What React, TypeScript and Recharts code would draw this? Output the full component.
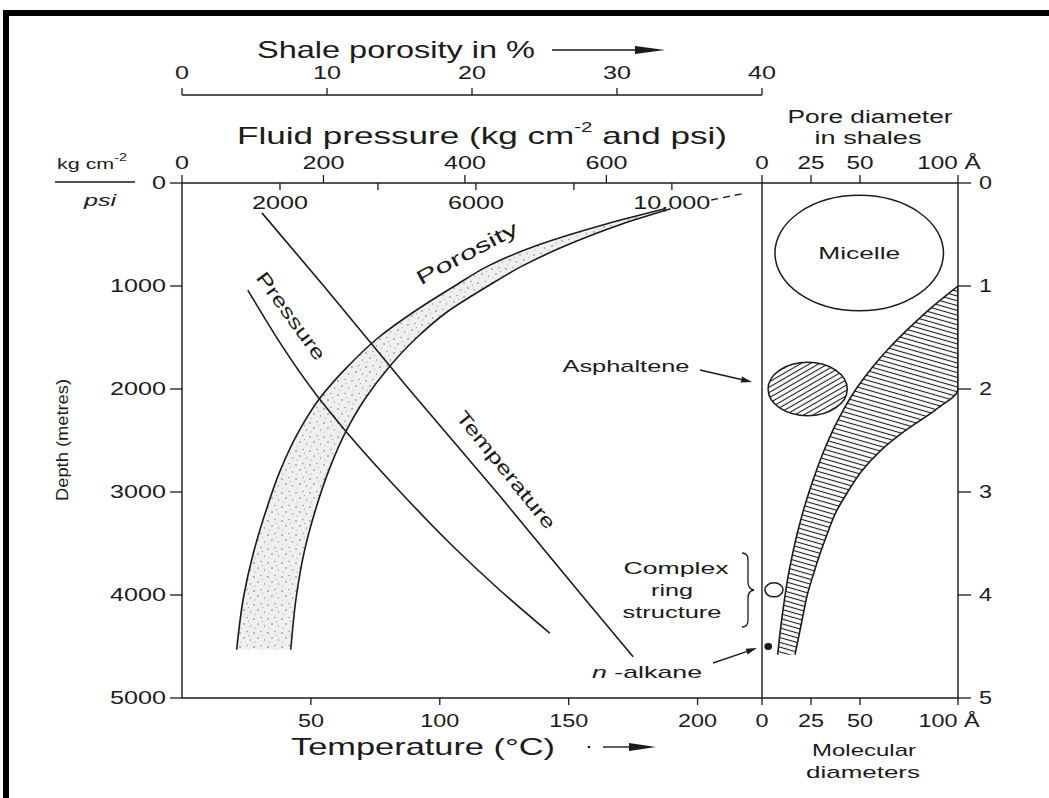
import React from 'react';
import { ComposedChart, Line, Area, Scatter, XAxis, YAxis } from 'recharts';

// ---------------- data ----------------
const depthTicks = [0, 1000, 2000, 3000, 4000, 5000];
const kmTicks = [0, 1, 2, 3, 4, 5];
const porosityTicks = [0, 10, 20, 30, 40];
const kgTicks = [0, 200, 400, 600];
const psiTicks = [2000, 4000, 6000, 8000, 10000];
const psiLabels = ['2000', '', '6000', '', '10,000'];
const temperatureTicks = [50, 100, 150, 200];
const angstromTicks = [0, 25, 50, 100];

// shale porosity band (%), depth in metres
const bandDepths = [250, 400, 600, 800, 1000, 1250, 1500, 1800, 2100, 2400, 2800, 3200, 3600, 4000, 4530];
const bandLow = [33.3, 29.2, 24.6, 21.2, 18.8, 16.0, 13.55, 11.3, 9.45, 8.1, 6.75, 5.75, 4.91, 4.27, 3.77];
const bandHigh = [33.7, 30.3, 26.6, 23.55, 21.1, 18.3, 16.2, 14.2, 12.6, 11.35, 10.1, 9.15, 8.4, 7.9, 7.5];

// dashed upward continuation of the porosity curve
const extDepths = [165, 97];
const extPorosity = [36.5, 38.9];

// fluid pressure (kg cm-2)
const pressureDepths = [1040, 2075, 2380, 2980, 3500, 3920, 4370];
const pressureKg = [93, 192, 228, 306, 379, 444, 520];

// temperature (deg C)
const temperatureDepths = [290, 1000, 2000, 3000, 4000, 4600];
const temperatureC = [31, 55, 88, 122, 155, 175];

// pore diameter band in shales (Angstrom), depth in km
const poreDepthsKm = [1.0, 1.2, 1.4, 1.6, 1.8, 2.0, 2.2, 2.4, 2.6, 2.8, 3.0, 3.2, 3.4, 3.6, 3.8, 4.0, 4.2, 4.4, 4.58];
const poreLow = [100, 87, 75.5, 65, 55.8, 48, 41.6, 36.2, 31.6, 27.6, 24, 20.8, 18, 15.6, 13.5, 11.8, 10.3, 9.0, 8.0];
const poreHigh = [100, 100, 100, 100, 100, 100, 88.7, 73.4, 60.4, 50.7, 43.7, 37.6, 33.4, 29.6, 26.2, 23.1, 20.9, 18.8, 16.8];

// molecular diameters (ellipses)
const moleculeNames = ['Micelle', 'Asphaltene', 'Complex ring structure', 'n-alkane'];
const moleculeA = [49.6, 23.3, 6.1, 3.2];
const moleculeKm = [0.68, 2.0, 3.95, 4.5];
const moleculeRxA = [43, 20.2, 4.6, 1.6];
const moleculeRyKm = [0.56, 0.26, 0.068, 0.026];

const bandData = bandDepths.map((depth, i) => ({ depth, range: [bandLow[i], bandHigh[i]] }));
const extData = extDepths.map((depth, i) => ({ depth, porosity: extPorosity[i] }));
const pressureData = pressureDepths.map((depth, i) => ({ depth, kg: pressureKg[i] }));
const temperatureData = temperatureDepths.map((depth, i) => ({ depth, celsius: temperatureC[i] }));
const poreData = poreDepthsKm.map((d, i) => ({ d, range: [poreLow[i], poreHigh[i]] }));
const moleculeData = moleculeNames.map((name, i) => ({
  name, a: moleculeA[i], d: moleculeKm[i], rx: moleculeRxA[i], ry: moleculeRyKm[i],
}));

// ---------------- layout ----------------
const W = 1049;
const H = 798;
const PLOT_TOP = 183;
const PLOT_BOTTOM = 698;
const LX0 = 182;
const LX1 = 762;
const RX1 = 958;
const POR_AXIS_Y = 95;
const FONT = '"Liberation Sans", Arial, Helvetica, sans-serif';
const INK = '#1b1b1b';
const PX_PER_A = (RX1 - LX1) / 100;
const PX_PER_KM = (PLOT_BOTTOM - PLOT_TOP) / 5;

type TxtProps = {
  x: number; y: number; text?: React.ReactNode; size?: number; sx?: number;
  anchor?: 'start' | 'middle' | 'end'; rotate?: number; italic?: boolean; len?: number;
};

function Txt({ x, y, text, size = 18, sx = 1, anchor = 'middle', rotate = 0, italic = false, len }: TxtProps) {
  return (
    <g transform={`translate(${x},${y}) rotate(${rotate}) scale(${sx},1)`}>
      <text
        x={0}
        y={0}
        fontFamily={FONT}
        fontSize={size}
        fill={INK}
        textAnchor={anchor}
        dominantBaseline="central"
        fontStyle={italic ? 'italic' : 'normal'}
        textLength={len}
        lengthAdjust={len ? 'spacingAndGlyphs' : undefined}
      >
        {text}
      </text>
    </g>
  );
}

function makeTick(
  fmt: (v: number) => string,
  opts: { dx?: number; dy?: number; size?: number; sx?: number; anchor?: 'start' | 'middle' | 'end'; shift?: (v: number) => number },
) {
  return (p: any) => {
    const v = p?.payload?.value;
    const label = fmt(v);
    if (!label) return <g />;
    return (
      <Txt
        x={p.x + (opts.dx ?? 0) + (opts.shift ? opts.shift(v) : 0)}
        y={p.y + (opts.dy ?? 0)}
        text={label}
        size={opts.size ?? 18}
        sx={opts.sx ?? 1.4}
        anchor={opts.anchor ?? 'middle'}
      />
    );
  };
}

const fmtNum = (v: number) => String(v);
const fmtAngstrom = (v: number) => (v === 100 ? '100 Å' : String(v));
const fmtPsi = (v: number) => psiLabels[psiTicks.indexOf(v)] ?? '';
const shiftAngstrom = (v: number) => (v === 100 ? -9 : 0);

const axisLine = { stroke: INK, strokeWidth: 1.4 };
const tickLine = { stroke: INK, strokeWidth: 1.3 };

function MoleculeShape(props: any) {
  const { cx, cy, payload } = props;
  if (cx == null || cy == null || !payload) return <g />;
  const rx = payload.rx * PX_PER_A;
  const ry = payload.ry * PX_PER_KM;
  let fill = '#ffffff';
  if (payload.name === 'Asphaltene') fill = 'url(#hatchAsph)';
  if (payload.name === 'n-alkane') fill = INK;
  return (
    <g>
      <ellipse cx={cx} cy={cy} rx={rx} ry={ry} fill={fill} stroke={INK} strokeWidth={1.5} />
      {payload.name === 'Micelle' && <Txt x={cx} y={cy} text="Micelle" size={17} len={82} />}
    </g>
  );
}

function Arrow({ x1, y1, x2, y2, head = 10, half = 3.2 }: { x1: number; y1: number; x2: number; y2: number; head?: number; half?: number }) {
  const ang = Math.atan2(y2 - y1, x2 - x1);
  const bx = x2 - head * Math.cos(ang);
  const by = y2 - head * Math.sin(ang);
  const px = -Math.sin(ang) * half;
  const py = Math.cos(ang) * half;
  return (
    <g>
      <line x1={x1} y1={y1} x2={bx} y2={by} stroke={INK} strokeWidth={1.4} />
      <polygon points={`${x2},${y2} ${bx + px},${by + py} ${bx - px},${by - py}`} fill={INK} />
    </g>
  );
}

const abs: React.CSSProperties = { position: 'absolute', left: 0, top: 0 };

export default function App() {
  return (
    <div style={{ position: 'absolute', left: 0, top: 0, width: W, height: H, background: '#fff', overflow: 'hidden' }}>
      {/* main depth panel */}
      <div style={abs}>
        <ComposedChart
          width={W}
          height={H}
          layout="vertical"
          margin={{ top: PLOT_TOP - 30, bottom: H - PLOT_BOTTOM - 30, left: LX0 - 100, right: W - LX1 }}
        >
          <defs>
            <pattern id="stipple" width="14" height="14" patternUnits="userSpaceOnUse">
              <rect width="14" height="14" fill="#efefef" />
              <circle cx="2" cy="3" r="0.8" fill="#6f6f6f" />
              <circle cx="9" cy="1.5" r="0.7" fill="#888" />
              <circle cx="6" cy="8" r="0.8" fill="#777" />
              <circle cx="12.5" cy="10" r="0.7" fill="#888" />
              <circle cx="3" cy="12" r="0.6" fill="#999" />
              <circle cx="10.5" cy="5.5" r="0.6" fill="#999" />
            </pattern>
          </defs>
          <XAxis xAxisId="por" hide type="number" orientation="top" height={0} domain={[0, 40]} allowDataOverflow />
          <XAxis
            xAxisId="kg"
            orientation="top"
            type="number"
            domain={[0, 820]}
            ticks={kgTicks}
            interval={0}
            height={30}
            tickSize={8}
            axisLine={axisLine}
            tickLine={tickLine}
            tick={makeTick(fmtNum, { dy: -10, size: 18, sx: 1.4 })}
            allowDataOverflow
          />
          <XAxis
            xAxisId="temp"
            orientation="bottom"
            type="number"
            domain={[0, 225]}
            ticks={temperatureTicks}
            interval={0}
            height={30}
            tickSize={7}
            axisLine={axisLine}
            tickLine={tickLine}
            tick={makeTick(fmtNum, { dy: 14, size: 18, sx: 1.3 })}
            allowDataOverflow
          />
          <YAxis
            yAxisId="d"
            orientation="left"
            type="number"
            dataKey="depth"
            domain={[0, 5000]}
            ticks={depthTicks}
            interval={0}
            width={100}
            tickSize={12}
            axisLine={axisLine}
            tickLine={tickLine}
            tick={makeTick(fmtNum, { dx: -2, size: 18, sx: 1.4, anchor: 'end' })}
            allowDataOverflow
          />
          <Area
            xAxisId="por"
            yAxisId="d"
            data={bandData}
            dataKey="range"
            type="monotone"
            fill="url(#stipple)"
            fillOpacity={1}
            stroke={INK}
            strokeWidth={1.6}
            dot={false}
            activeDot={false}
            isAnimationActive={false}
          />
          <Line
            xAxisId="por"
            yAxisId="d"
            data={extData}
            dataKey="porosity"
            type="linear"
            stroke={INK}
            strokeWidth={1.3}
            strokeDasharray="7 5"
            dot={false}
            activeDot={false}
            isAnimationActive={false}
          />
          <Line
            xAxisId="kg"
            yAxisId="d"
            data={pressureData}
            dataKey="kg"
            type="monotone"
            stroke={INK}
            strokeWidth={1.6}
            dot={false}
            activeDot={false}
            isAnimationActive={false}
          />
          <Line
            xAxisId="temp"
            yAxisId="d"
            data={temperatureData}
            dataKey="celsius"
            type="linear"
            stroke={INK}
            strokeWidth={1.6}
            dot={false}
            activeDot={false}
            isAnimationActive={false}
          />
        </ComposedChart>
      </div>

      {/* shale porosity axis (top) */}
      <div style={abs}>
        <ComposedChart
          width={W}
          height={H}
          data={porosityTicks.map((p) => ({ p }))}
          margin={{ top: POR_AXIS_Y - 30, bottom: 500, left: LX0, right: W - LX1 }}
        >
          <XAxis
            orientation="top"
            type="number"
            dataKey="p"
            domain={[0, 40]}
            ticks={porosityTicks}
            interval={0}
            height={30}
            tickSize={7}
            axisLine={axisLine}
            tickLine={tickLine}
            tick={makeTick(fmtNum, { dy: -13, size: 18, sx: 1.4 })}
            allowDataOverflow
          />
        </ComposedChart>
      </div>

      {/* psi ticks under the pressure axis */}
      <div style={abs}>
        <ComposedChart
          width={W}
          height={H}
          data={psiTicks.map((v) => ({ v }))}
          margin={{ top: 0, bottom: H - PLOT_TOP - 30, left: LX0, right: W - LX1 }}
        >
          <XAxis
            orientation="bottom"
            type="number"
            dataKey="v"
            domain={[0, 11840]}
            ticks={psiTicks}
            interval={0}
            height={30}
            tickSize={7}
            axisLine={false}
            tickLine={tickLine}
            tick={makeTick(fmtPsi, { dy: 11, size: 18, sx: 1.4 })}
            allowDataOverflow
          />
        </ComposedChart>
      </div>

      {/* pore / molecular diameter panel */}
      <div style={abs}>
        <ComposedChart
          width={W}
          height={H}
          layout="vertical"
          margin={{ top: PLOT_TOP - 30, bottom: H - PLOT_BOTTOM - 30, left: LX1 - 10, right: W - RX1 - 60 }}
        >
          <defs>
            <pattern id="hatchBand" width="8" height="4.6" patternUnits="userSpaceOnUse" patternTransform="rotate(16)">
              <rect width="8" height="4.6" fill="#fff" />
              <line x1="0" y1="2.3" x2="8" y2="2.3" stroke={INK} strokeWidth="1.1" />
            </pattern>
            <pattern id="hatchAsph" width="8" height="4.6" patternUnits="userSpaceOnUse" patternTransform="rotate(-30)">
              <rect width="8" height="4.6" fill="#fff" />
              <line x1="0" y1="2.3" x2="8" y2="2.3" stroke={INK} strokeWidth="1.1" />
            </pattern>
          </defs>
          <XAxis
            xAxisId="aTop"
            orientation="top"
            type="number"
            dataKey="a"
            domain={[0, 100]}
            ticks={angstromTicks}
            interval={0}
            height={30}
            tickSize={8}
            axisLine={axisLine}
            tickLine={tickLine}
            tick={makeTick(fmtAngstrom, { dy: -10, size: 18, sx: 1.35, shift: shiftAngstrom })}
            allowDataOverflow
          />
          <XAxis
            xAxisId="aBottom"
            orientation="bottom"
            type="number"
            domain={[0, 100]}
            ticks={angstromTicks}
            interval={0}
            height={30}
            tickSize={7}
            axisLine={axisLine}
            tickLine={tickLine}
            tick={makeTick(fmtAngstrom, { dy: 14, size: 18, sx: 1.3, shift: shiftAngstrom })}
            allowDataOverflow
          />
          <YAxis
            yAxisId="divider"
            orientation="left"
            type="number"
            dataKey="d"
            domain={[0, 5]}
            width={10}
            tick={false}
            tickLine={false}
            axisLine={axisLine}
            allowDataOverflow
          />
          <YAxis
            yAxisId="km"
            orientation="right"
            type="number"
            dataKey="d"
            domain={[0, 5]}
            ticks={kmTicks}
            interval={0}
            width={60}
            tickSize={13}
            axisLine={axisLine}
            tickLine={tickLine}
            tick={makeTick(fmtNum, { dx: 6, size: 18, sx: 1.3, anchor: 'start' })}
            allowDataOverflow
          />
          <Area
            xAxisId="aTop"
            yAxisId="km"
            data={poreData}
            dataKey="range"
            type="monotone"
            fill="url(#hatchBand)"
            fillOpacity={1}
            stroke={INK}
            strokeWidth={1.6}
            dot={false}
            activeDot={false}
            isAnimationActive={false}
          />
          <Scatter
            xAxisId="aTop"
            yAxisId="km"
            data={moleculeData}
            shape={(p: any) => <MoleculeShape {...p} />}
            isAnimationActive={false}
          />
        </ComposedChart>
      </div>

      {/* annotations */}
      <svg width={W} height={H} style={{ ...abs, pointerEvents: 'none' }}>
        {/* frame */}
        <rect x={3} y={10} width={6} height={H - 10} fill="#000" />
        <rect x={3} y={10} width={W - 3} height={6} fill="#000" />

        <Txt x={396} y={49} text="Shale porosity in %" size={24} len={278} />
        <Arrow x1={552} y1={50} x2={665} y2={50} head={30} half={4} />

        <g transform="translate(482,135)">
          <text
            x={0}
            y={0}
            fontFamily={FONT}
            fontSize={24}
            fill={INK}
            textAnchor="middle"
            dominantBaseline="central"
            textLength={490}
            lengthAdjust="spacingAndGlyphs"
          >
            Fluid pressure (kg  cm<tspan dy={-8} fontSize={14}>-2</tspan><tspan dy={8}>  and psi)</tspan>
          </text>
        </g>

        <Txt x={870} y={117} text="Pore diameter" size={18} len={165} />
        <Txt x={868} y={138} text="in shales" size={18} len={107} />

        <g transform="translate(92,163)">
          <text x={0} y={0} fontFamily={FONT} fontSize={15} fill={INK} textAnchor="middle" dominantBaseline="central" textLength={70} lengthAdjust="spacingAndGlyphs">
            kg  cm<tspan dy={-6} fontSize={10}>-2</tspan>
          </text>
        </g>
        <line x1={55} y1={182} x2={135} y2={182} stroke={INK} strokeWidth={1.3} />
        <Txt x={100} y={200} text="psi" size={16} len={32} italic />

        <Txt x={62} y={440} text="Depth (metres)" size={16} len={122} rotate={-90} />

        <Txt x={423} y={746} text="Temperature (°C)" size={24} len={264} />
        <circle cx={589} cy={747} r={1.3} fill={INK} />
        <Arrow x1={603} y1={747} x2={656} y2={747} head={27} half={4} />

        <Txt x={864} y={750} text="Molecular" size={17} len={104} />
        <Txt x={863} y={772} text="diameters" size={17} len={114} />

        <Txt x={467} y={253} text="Porosity" size={20} len={112} rotate={-28} />
        <Txt x={291} y={316} text="Pressure" size={19} len={104} rotate={54} />
        <Txt x={506} y={470} text="Temperature" size={19} len={146} rotate={51} />

        <Txt x={626} y={366} text="Asphaltene" size={17} len={127} />
        <Arrow x1={700} y1={370} x2={752} y2={382} head={11} half={3} />

        <Txt x={676} y={568} text="Complex" size={17} len={105} />
        <Txt x={672} y={590} text="ring" size={17} len={42} />
        <Txt x={672} y={612} text="structure" size={17} len={99} />
        <path
          d="M742,553 Q748,553 748,560 L748,582 Q748,589 754,590 Q748,591 748,598 L748,620 Q748,627 742,627"
          fill="none"
          stroke={INK}
          strokeWidth={1.3}
        />

        <g transform="translate(647,672)">
          <text x={0} y={0} fontFamily={FONT} fontSize={17} fill={INK} textAnchor="middle" dominantBaseline="central" textLength={110} lengthAdjust="spacingAndGlyphs">
            <tspan fontStyle="italic">n</tspan> -alkane
          </text>
        </g>
        <Arrow x1={713} y1={663} x2={757} y2={648} head={11} half={3} />
      </svg>
    </div>
  );
}
